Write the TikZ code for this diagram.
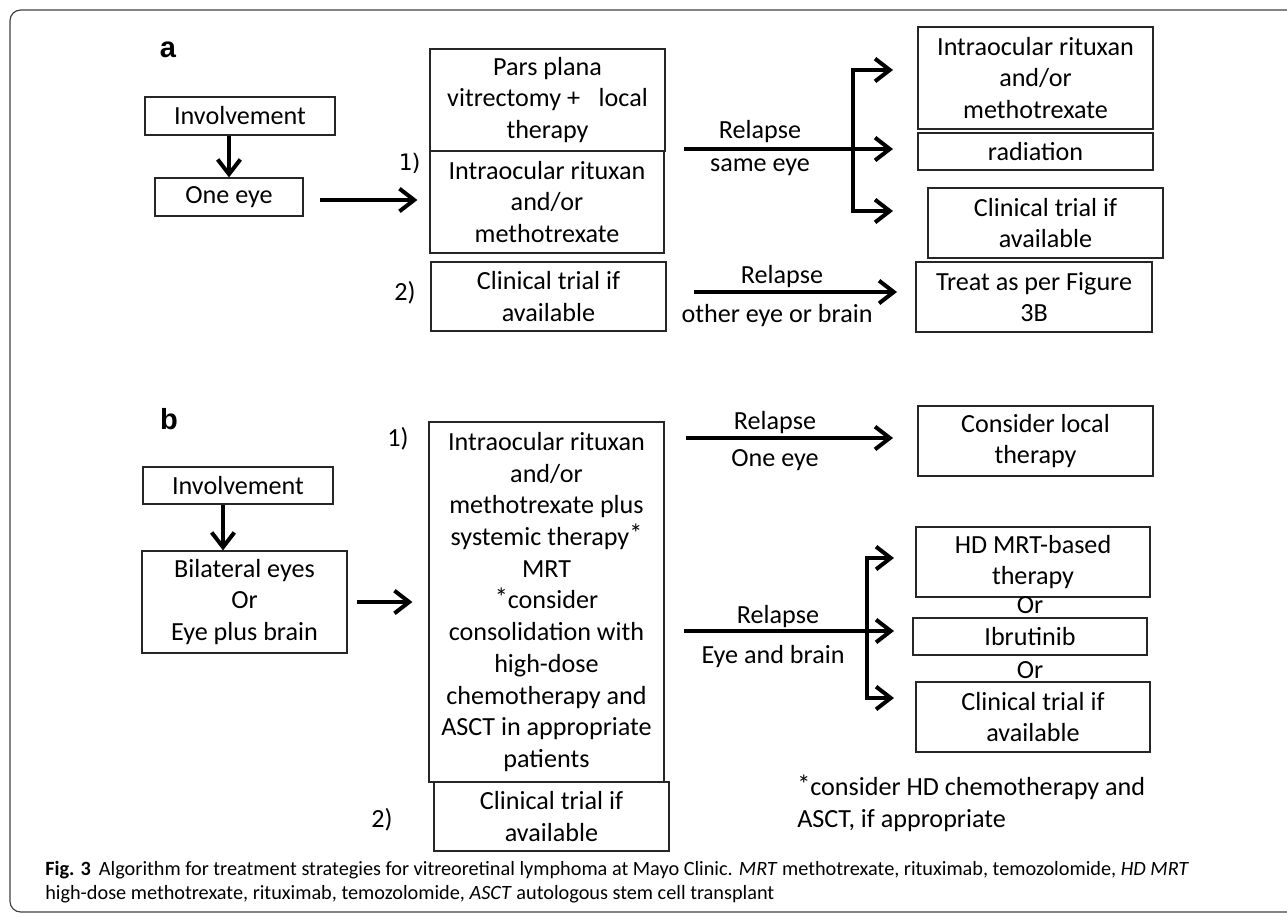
\documentclass[tikz,border=0pt]{standalone}
\usepackage{fontspec}
\setmainfont{Carlito}
\newfontfamily\labfont{Liberation Sans}
\newfontfamily\numfont{DejaVu Sans Mono}
\usetikzlibrary{arrows.meta,calc}
\newcommand\stx{\raisebox{0.1em}{*}}
\begin{document}
\begin{tikzpicture}[x=0.75pt,y=-0.75pt,
  txt/.style={font=\fontsize{19.6}{23.8}\selectfont, inner sep=0pt, align=center},
  box/.style={txt, draw=black!85, line width=0.9pt},
  sz/.style 2 args={minimum width=#1*0.75pt, minimum height=#2*0.75pt},
  arr/.style={line width=3pt, -{Straight Barb[length=11pt,width=17pt,line width=3pt]}},
  panel/.style={font=\labfont\bfseries\fontsize{21.8}{26}\selectfont, inner sep=0pt},
  frame/.style={draw=black!75, line width=0.9pt, rounded corners=8pt}]
\useasboundingbox (0,0) rectangle (1287,917);
\draw[frame] (1292,10) -- (10,10) -- (10,912) -- (1292,912);

% ---------- panel a ----------
\node[panel] (pa) at (168,50) {a};
\node[box, sz={190}{38}] (A1) at (240,116) {Involvement};
\node[box, sz={148}{38}] (A2) at (229,197) {One eye};
\node[box, sz={235}{102}] (A3) at (547.5,100) {Pars plana\\vitrectomy +\hspace{14pt}local\\therapy};
\node[box, sz={234}{102}] (A4) at (547,202) {Intraocular rituxan\\and/or\\methotrexate};
\node[box, sz={235}{69}] (A5) at (548.5,296.5) {Clinical trial if\\available};
\node[txt, font=\numfont\fontsize{17}{19}\selectfont] (n1a) at (411,163) {1\kern-2pt)};
\node[txt] (n2a) at (405,293) {2)};
\node[box, sz={235}{102}] (A6) at (1035.5,78) {Intraocular rituxan\\and/or\\methotrexate};
\node[box, sz={235}{37}] (A7) at (1035.5,151.5) {radiation};
\node[box, sz={235}{70}] (A8) at (1045.5,223) {Clinical trial if\\available};
\node[box, sz={236}{70}] (A9) at (1034,297) {Treat as per Figure\\3B};

\draw[arr] (A2.north |- A1.south) -- (A2.north);
\draw[arr, shorten <=12pt, shorten >=9pt] ($(A2.east)+(0,3)$) -- ($(A4.west)+(0,-2)$);

\coordinate (a0) at (684,149);
\coordinate (aJ) at (853,149);
\coordinate (a1) at (893,70);
\coordinate (a2) at (893,149);
\coordinate (a3) at (893,211);
\draw[arr] (a0) -- (a2);
\draw[arr] (aJ) |- (a1);
\draw[arr] (aJ) |- (a3);
\node[txt] (ra1) at (760,132) {Relapse};
\node[txt] (ra2) at (760,167) {same eye};

\coordinate (c0) at (694,292);
\coordinate (c1) at (897,292);
\draw[arr] (c0) -- (c1);
\node[txt] (rc1) at (782,277) {Relapse};
\node[txt] (rc2) at (777,316) {other eye or brain};

% ---------- panel b ----------
\node[panel] (pb) at (169,419) {b};
\node[box, sz={190}{37}] (B1) at (238,485.5) {Involvement};
\node[box, sz={205}{102}] (B2) at (244.5,602) {Bilateral eyes\\Or\\Eye plus brain};
\node[box, sz={235}{360}] (B3) at (546.5,602) {Intraocular rituxan\\and/or\\methotrexate plus\\systemic therapy\stx\\MRT\\\stx consider\\consolidation with\\high-dose\\chemotherapy and\\ASCT in appropriate\\patients};
\node[box, sz={235}{69}] (B4) at (551.5,816.5) {Clinical trial if\\available};
\node[txt] (n1b) at (398,439) {1)};
\node[txt] (n2b) at (382,820) {2)};
\node[box, sz={235}{70}] (B5) at (1035.5,441) {Consider local\\therapy};
\node[box, sz={234}{70}] (B6) at (1033,562) {HD MRT-based\\therapy};
\node[box, sz={234}{37}] (B7) at (1030,636.5) {Ibrutinib};
\node[box, sz={234}{70}] (B8) at (1033,717) {Clinical trial if\\available};
\node[txt] (or1) at (1030,605) {Or};
\node[txt] (or2) at (1030,670) {Or};

\coordinate (bd) at ($(B1.south)+(-15,0)$);
\draw[arr] (bd) -- (bd |- B2.north);
\draw[arr, shorten <=6.75pt, shorten >=12pt] (B2.east) -- (B3.west);

\coordinate (d0) at (686,438);
\coordinate (d1) at (893,438);
\draw[arr] (d0) -- (d1);
\node[txt] (rd1) at (775,423) {Relapse};
\node[txt] (rd2) at (775,460) {One eye};

\coordinate (e0) at (684,631);
\coordinate (eJ) at (867,631);
\coordinate (e1) at (894,558);
\coordinate (e2) at (894,631);
\coordinate (e3) at (894,698);
\draw[arr] (e0) -- (e2);
\draw[arr] (eJ) |- (e1);
\draw[arr] (eJ) |- (e3);
\node[txt] (re1) at (778,617) {Relapse};
\node[txt] (re2) at (773,657) {Eye and brain};

\node[txt, align=left, anchor=west] (foot) at (797,803) {\stx consider HD chemotherapy and\\ASCT, if appropriate};

% ---------- caption ----------
\node[inner sep=0pt, align=left, anchor=west, font=\fontsize{15.2}{17.5}\selectfont] (cap) at (45,882)
{\textbf{Fig. 3}\hspace{6pt}Algorithm for treatment strategies for vitreoretinal lymphoma at Mayo Clinic. \textit{MRT} methotrexate, rituximab, temozolomide, \textit{HD MRT}\\high-dose methotrexate, rituximab, temozolomide, \textit{ASCT} autologous stem cell transplant};
\end{tikzpicture}
\end{document}
